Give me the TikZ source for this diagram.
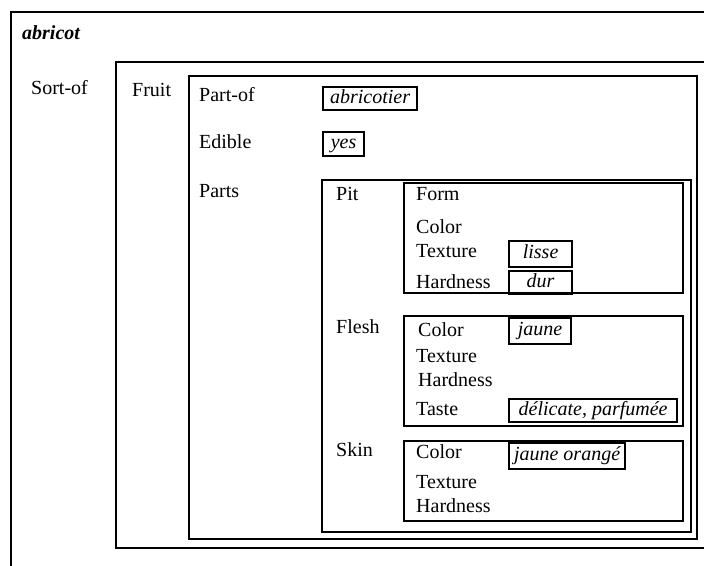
\documentclass[tikz,border=0pt]{standalone}
\usepackage{fontspec}
\setmainfont{Liberation Serif}
\usetikzlibrary{positioning}
\newcommand{\framefont}{\fontsize{20}{24}\selectfont}

\begin{document}
\begin{tikzpicture}[x=1pt,y=-1pt,font=\framefont,frame/.style={line width=2pt},lbl/.style={anchor=base west,inner sep=0pt},valbox/.style={draw,line width=2.2pt,anchor=north west,inner sep=0pt,text height=13pt,text depth=4pt,font=\framefont\itshape}]

	\clip (0,0) rectangle (704,565);

	% nested frames
	\draw [frame]	(11,12)		rectangle	(720,580);
	\draw [frame]	(116,62)	rectangle	(720,548);
	\draw [frame]	(189,76)	rectangle	(697,539);
	\draw [frame]	(322,180)	rectangle	(691,532);
	\draw [frame]	(404,183)	rectangle	(683,293);
	\draw [frame]	(404,316)	rectangle	(683,426);
	\draw [frame]	(404,441)	rectangle	(683,521);

	\node [lbl,font=\framefont\bfseries\itshape] at (22,39)	(abricot)	{abricot};
	\node [lbl] at (31,94)		(sort_of)		{Sort-of};
	\node [lbl] at (132,96)		(fruit)			{Fruit};
	\node [lbl] at (199,101)	(part_of)		{Part-of};
	\node [lbl] at (199,148)	(edible)		{Edible};
	\node [lbl] at (199,197)	(parts)			{Parts};
	\node [lbl] at (336,200)	(pit)			{Pit};
	\node [lbl] at (336,333)	(flesh)			{Flesh};
	\node [lbl] at (336,456)	(skin)			{Skin};

	% pit
	\node [lbl] at (416,200)	(pit_form)		{Form};
	\node [lbl] at (416,233)	(pit_color)		{Color};
	\node [lbl] at (416,257)	(pit_texture)	{Texture};
	\node [lbl] at (416,288)	(pit_hardness)	{Hardness};

	% flesh
	\node [lbl] at (418,336)	(flesh_color)	{Color};
	\node [lbl] at (416,362)	(flesh_texture)	{Texture};
	\node [lbl] at (418,386)	(flesh_hardness){Hardness};
	\node [lbl] at (416,415)	(flesh_taste)	{Taste};

	% skin
	\node [lbl] at (416,458)	(skin_color)	{Color};
	\node [lbl] at (416,488)	(skin_texture)	{Texture};
	\node [lbl] at (416,512)	(skin_hardness)	{Hardness};

	% values
	\node [valbox,minimum width=94,minimum height=23] at (322,86)	(v_abricotier)	{abricotier};
	\node [valbox,minimum width=41,minimum height=24] at (322,131)	(v_yes)			{yes};
	\node [valbox,minimum width=63,minimum height=26] at (508,240)	(v_lisse)		{lisse};
	\node [valbox,minimum width=63,minimum height=23] at (508,270)	(v_dur)			{dur};
	\node [valbox,minimum width=62,minimum height=26] at (508,317)	(v_jaune)		{jaune};
	\node [valbox,minimum width=168,minimum height=23] at (508,398)	(v_taste)		{délicate, parfumée};
	\node [valbox,minimum width=116,minimum height=26] at (508,442)	(v_skin)		{jaune orangé};

\end{tikzpicture}
\end{document}
